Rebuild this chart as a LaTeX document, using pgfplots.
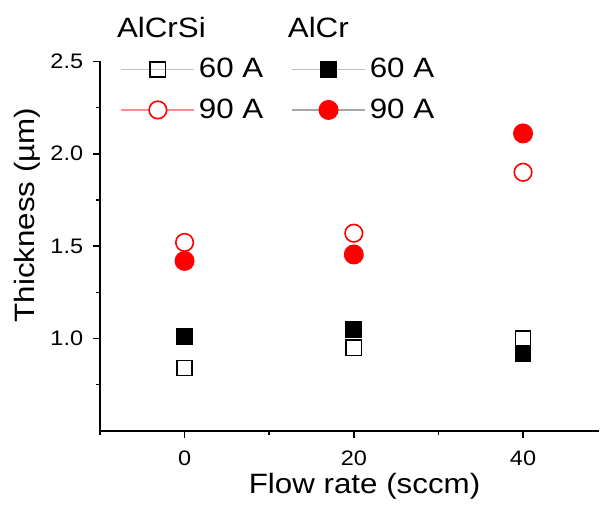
\documentclass[border=0pt]{standalone}
\usepackage{fontspec}
\setmainfont{Liberation Sans}[FakeStretch=1.12]
\usepackage{pgfplots}
\pgfplotsset{compat=1.18}

\begin{document}
\begin{tikzpicture}
\begin{axis}[
  scale only axis, width=250pt, height=185pt,
  xmin=-10, xmax=49, ymin=0.5, ymax=2.5,
  axis x line*=bottom, axis y line*=left,
  axis line style={-, line width=0.8pt},
  xtick={0,20,40}, minor xtick={-10,10,30},
  ytick={1.0,1.5,2.0,2.5}, minor ytick={0.75,1.25,1.75,2.25},
  tick align=outside, major tick length=3.5pt, minor tick length=2pt,
  tick style={black, line width=0.8pt},
  /pgf/number format/assume math mode=true,
  ticklabel style={font=\fontsize{10.5}{12}\selectfont},
  xticklabel style={yshift=-3pt},
  yticklabel style={xshift=-1.4pt, /pgf/number format/.cd, fixed, fixed zerofill, precision=1},
  xlabel={Flow rate (sccm)}, ylabel={Thickness (µm)},
  label style={font=\fontsize{14}{16}\selectfont, inner sep=1pt},
  xlabel style={at={([yshift=-19.8pt]axis description cs:0.53,0)}, anchor=north},
  ylabel style={at={([xshift=-28.8pt]axis description cs:0,0.584)}, anchor=south},
  legend columns=2,
  legend cell align=left,
  legend style={draw=none, fill=none, font=\fontsize{14}{16}\selectfont,
    at={(axis description cs:0.029,1.143)}, anchor=north west,
    /tikz/every even column/.append style={column sep=12pt},
    row sep=5pt},
  clip=false,
]
\addlegendimage{empty legend}
\addlegendentry{\makebox[0pt][l]{\hspace*{-41pt}AlCrSi}}
\addlegendimage{empty legend}
\addlegendentry{\makebox[0pt][l]{\hspace*{-41pt}AlCr}}

\addplot[only marks, mark=square, mark size=3.8pt,
  mark options={black, line width=0.8pt, fill=white},
  legend image code/.code={
    \draw[gray!50, line width=0.6pt] (0pt,0pt) -- (36.5pt,0pt);
    \draw[black, line width=0.8pt, fill=white, mark size=3.8pt] plot[mark=square] coordinates {(18.25pt,0pt)};}]
  coordinates {(0,0.84) (20,0.95) (40,1.00)};
\addlegendentry{60 A}

\addplot[only marks, mark=square*, mark size=3.8pt,
  mark options={black, line width=0.8pt, fill=black},
  legend image code/.code={
    \draw[gray!50, line width=0.6pt] (0pt,0pt) -- (36.5pt,0pt);
    \draw[black, line width=0.8pt, fill=black, mark size=3.8pt] plot[mark=square*] coordinates {(18.25pt,0pt)};}]
  coordinates {(0,1.01) (20,1.05) (40,0.92)};
\addlegendentry{60 A}

\addplot[only marks, mark=o, mark size=4.4pt,
  mark options={red, line width=0.8pt, fill=white},
  legend image code/.code={
    \draw[red!45, line width=0.6pt] (0pt,0pt) -- (36.5pt,0pt);
    \draw[red, line width=0.8pt, fill=white, mark size=4.4pt] plot[mark=*] coordinates {(18.25pt,0pt)};}]
  coordinates {(0,1.52) (20,1.57) (40,1.90)};
\addlegendentry{90 A}

\addplot[only marks, mark=*, mark size=4.6pt,
  mark options={red, line width=0.8pt, fill=red},
  legend image code/.code={
    \draw[gray!70, line width=0.8pt] (0pt,0pt) -- (36.5pt,0pt);
    \draw[red, line width=0.8pt, fill=red, mark size=4.6pt] plot[mark=*] coordinates {(18.25pt,0pt)};}]
  coordinates {(0,1.42) (20,1.455) (40,2.11)};
\addlegendentry{90 A}
\end{axis}
\path ([xshift=-6pt]current axis.outer west);
\path ([yshift=4.5pt]current axis.outer north);
\path ([yshift=-2pt]current axis.outer south);
\end{tikzpicture}
\end{document}
